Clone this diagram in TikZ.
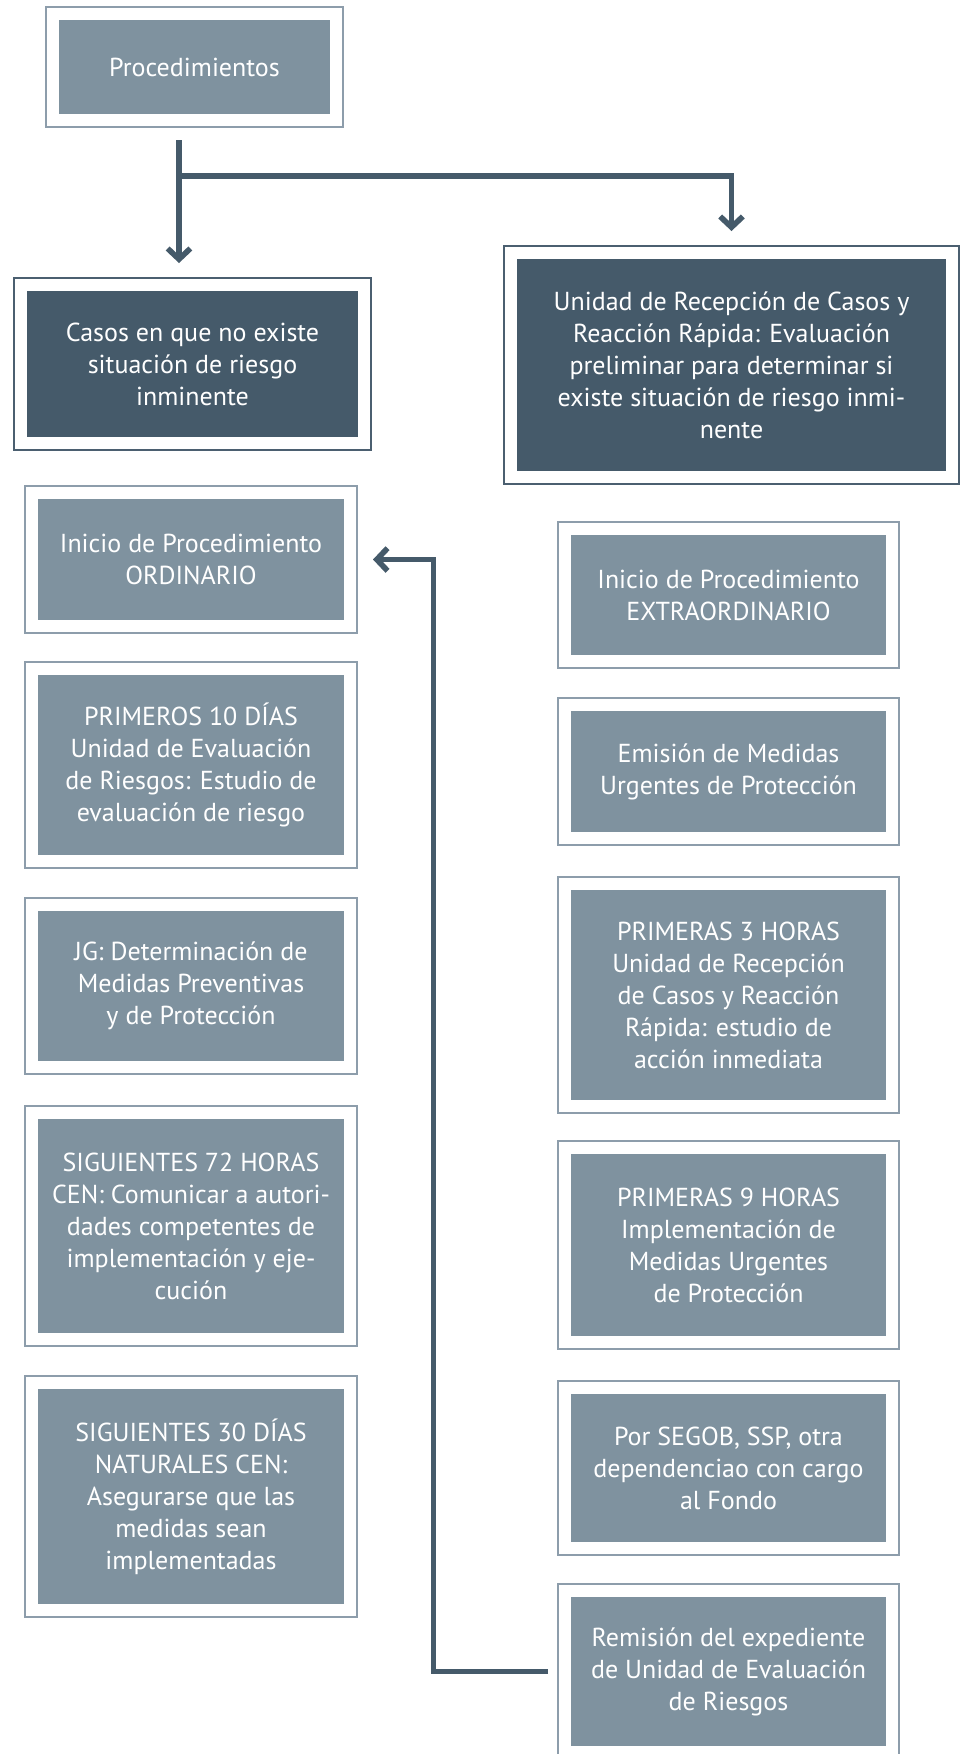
\documentclass[tikz,border=0pt]{standalone}
\usepackage{fontspec}
\setmainfont{PT Sans}
\usetikzlibrary{arrows.meta}
\definecolor{lfill}{HTML}{7F929F}
\definecolor{lborder}{HTML}{8D9DAB}
\definecolor{dfill}{HTML}{455A6A}
\definecolor{dborder}{HTML}{4B5F70}
\definecolor{conncol}{HTML}{455A6A}
\begin{document}
\begin{tikzpicture}[x=0.75pt,y=-0.75pt,
  box/.style={rectangle, inner sep=0pt, outer sep=9.75pt, fill=lfill, text=white, align=center,
    font=\fontsize{19.5}{24}\selectfont},
  dbox/.style={box, fill=dfill},
  lb/.style={draw=lborder, line width=1.9pt},
  db/.style={draw=dborder, line width=1.9pt},
  conn/.style={draw=conncol, line width=4.2pt},
  arr/.style={conn, -{Straight Barb[length=8pt,width=17pt]}}]
\useasboundingbox (0,0) rectangle (964,1754);
\fill[white] (0,0) rectangle (964,1754);

\node[box, minimum width=203.25pt, minimum height=70.5pt] (proc) at (194.5,67) {Procedimientos};
\node[dbox, minimum width=248.25pt, minimum height=109.5pt] (casos) at (192.5,364)
  {Casos en que no existe\\situación de riesgo\\inminente};
\node[dbox, minimum width=321.75pt, minimum height=159pt] (unidad) at (731.5,365)
  {Unidad de Recepción de Casos y\\Reacción Rápida: Evaluación\\preliminar para determinar si\\existe situación de riesgo inmi-\\nente};

\node[box, minimum width=229.5pt, minimum height=90.75pt] (ord) at (191,559.5)
  {Inicio de Procedimiento\\ORDINARIO};
\node[box, minimum width=229.5pt, minimum height=135pt] (p10) at (191,765)
  {PRIMEROS 10 DÍAS\\Unidad de Evaluación\\de Riesgos: Estudio de\\evaluación de riesgo};
\node[box, minimum width=229.5pt, minimum height=112.5pt] (jg) at (191,986)
  {JG: Determinación de\\Medidas Preventivas\\y de Protección};
\node[box, minimum width=229.5pt, minimum height=160.5pt] (s72) at (191,1226)
  {SIGUIENTES 72 HORAS\\CEN: Comunicar a autori-\\dades competentes de\\implementación y eje-\\cución};
\node[box, minimum width=229.5pt, minimum height=161.25pt] (s30) at (191,1496.5)
  {SIGUIENTES 30 DÍAS\\NATURALES CEN:\\Asegurarse que las\\medidas sean\\implementadas};

\node[box, minimum width=236.25pt, minimum height=90pt] (extra) at (728.5,595)
  {Inicio de Procedimiento\\EXTRAORDINARIO};
\node[box, minimum width=236.25pt, minimum height=90.75pt] (emis) at (728.5,771.5)
  {Emisión de Medidas\\Urgentes de Protección};
\node[box, minimum width=236.25pt, minimum height=157.5pt] (p3) at (728.5,995)
  {PRIMERAS 3 HORAS\\Unidad de Recepción\\de Casos y Reacción\\Rápida: estudio de\\acción inmediata};
\node[box, minimum width=236.25pt, minimum height=136.5pt] (p9) at (728.5,1245)
  {PRIMERAS 9 HORAS\\Implementación de\\Medidas Urgentes\\de Protección};
\node[box, minimum width=236.25pt, minimum height=111pt] (segob) at (728.5,1468)
  {Por SEGOB, SSP, otra\\dependenciao con cargo\\al Fondo};
\node[box, minimum width=236.25pt, minimum height=111.75pt] (rem) at (728.5,1671.5)
  {Remisión del expediente\\de Unidad de Evaluación\\de Riesgos};

\foreach \n in {proc,ord,p10,jg,s72,s30,extra,emis,p3,p9,segob,rem}
  \draw[lb] (\n.north west) rectangle (\n.south east);
\foreach \n in {casos,unidad}
  \draw[db] (\n.north west) rectangle (\n.south east);

\coordinate (jx) at (179,176);
\coordinate (fx) at (433.5,0);
\draw[arr, shorten <=9.75pt, shorten >=11.25pt] (proc.south -| jx) -- (casos.north -| jx);
\draw[arr, shorten >=11.25pt] (jx) -| (unidad.north);
\draw[arr, shorten <=7.5pt, shorten >=12pt] (rem.west) -| (fx |- ord.east) -- (ord.east);
\end{tikzpicture}
\end{document}
